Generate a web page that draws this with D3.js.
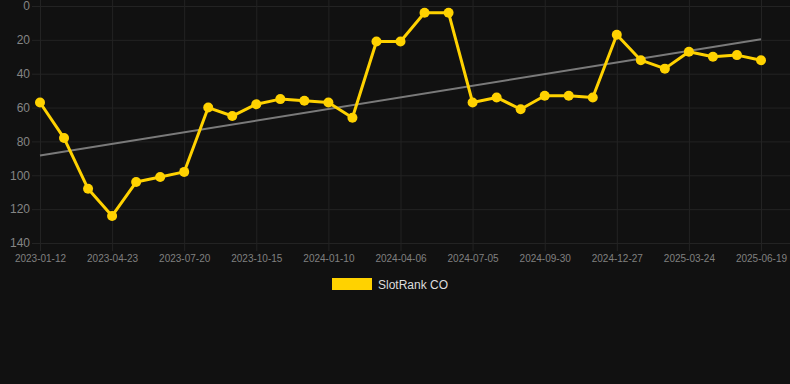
<!DOCTYPE html>
<html>
<head>
<meta charset="utf-8">
<script src="https://cdn.jsdelivr.net/npm/d3@7"></script>
<style>
  html, body { margin: 0; padding: 0; background: #111111; }
  svg { display: block; }
</style>
</head>
<body>
<div id="chart"></div>
<script>
// dates of each rank check (only every third one is labelled)
var dates = [
  "2023-01-12", "2023-02-14", "2023-03-20", "2023-04-23", "2023-05-22", "2023-06-20",
  "2023-07-20", "2023-08-18", "2023-09-16", "2023-10-15", "2023-11-13", "2023-12-12",
  "2024-01-10", "2024-02-08", "2024-03-08", "2024-04-06", "2024-05-06", "2024-06-05",
  "2024-07-05", "2024-08-03", "2024-09-01", "2024-09-30", "2024-10-29", "2024-11-28",
  "2024-12-27", "2025-01-25", "2025-02-23", "2025-03-24", "2025-04-22", "2025-05-21",
  "2025-06-19"
];
var ranks = [
  57, 78, 108, 124, 104, 101, 98, 60, 65, 58, 55, 56, 57, 66, 21, 21,
  4, 4, 57, 54, 61, 53, 53, 54, 17, 32, 37, 27, 30, 29, 32
];
var yTicks = [0, 20, 40, 60, 80, 100, 120, 140];
var seriesName = "SlotRank CO";

var W = 790, H = 384;
var plotLeft = 40, plotRight = 761, plotTop = 6, plotBottom = 243;

var svg = d3.select("#chart")
  .append("svg")
    .attr("width", W)
    .attr("height", H)
    .style("font-family", "Helvetica Neue, Helvetica, Arial, sans-serif");

var x = d3.scalePoint()
  .domain(dates)
  .range([plotLeft, plotRight]);

var y = d3.scaleLinear()
  .domain([0, 140])
  .range([plotTop, plotBottom]);

var gridColor = "#232323";

// horizontal grid + y labels
var yAxis = svg.append("g")
  .attr("transform", `translate(${plotLeft},0)`)
  .call(d3.axisLeft(y).tickValues(yTicks).tickSize(8).tickPadding(2))
  .call(g => g.select(".domain").remove());
yAxis.selectAll("line").attr("stroke", gridColor);
yAxis.selectAll("text")
  .attr("fill", "#858585")
  .style("font-size", "12px");
svg.append("g")
  .selectAll("line")
  .data(yTicks)
  .join("line")
    .attr("x1", plotLeft)
    .attr("x2", W)
    .attr("y1", d => y(d) + 0.5)
    .attr("y2", d => y(d) + 0.5)
    .attr("stroke", gridColor);

// vertical grid + x labels (every third date)
var shown = dates.filter((d, i) => i % 3 === 0);
var xAxis = svg.append("g")
  .attr("transform", `translate(0,${plotBottom})`)
  .call(d3.axisBottom(x).tickValues(shown).tickSize(8).tickPadding(4))
  .call(g => g.select(".domain").remove());
xAxis.selectAll("line").attr("stroke", gridColor);
xAxis.selectAll("text")
  .attr("fill", "#808080")
  .style("font-size", "10px");
svg.append("g")
  .selectAll("line")
  .data(shown)
  .join("line")
    .attr("x1", d => x(d) + 0.5)
    .attr("x2", d => x(d) + 0.5)
    .attr("y1", 0)
    .attr("y2", plotBottom)
    .attr("stroke", gridColor);

// trend line (least squares fit over the points)
var n = ranks.length;
var mx = d3.mean(ranks, (d, i) => i);
var my = d3.mean(ranks);
var slope = d3.sum(ranks, (d, i) => (i - mx) * (d - my)) / d3.sum(ranks, (d, i) => (i - mx) * (i - mx));
var b = my - slope * mx;
svg.append("line")
  .attr("x1", x(dates[0]))
  .attr("y1", y(b))
  .attr("x2", x(dates[n - 1]))
  .attr("y2", y(b + slope * (n - 1)))
  .attr("stroke", "#7a7a7a")
  .attr("stroke-width", 2);

// rank line
var line = d3.line()
  .x((d, i) => x(dates[i]))
  .y(d => y(d));
svg.append("path")
  .datum(ranks)
  .attr("d", line)
  .attr("fill", "none")
  .attr("stroke", "#FFD200")
  .attr("stroke-width", 3)
  .attr("stroke-linejoin", "round");

svg.append("g")
  .selectAll("circle")
  .data(ranks)
  .join("circle")
    .attr("cx", (d, i) => x(dates[i]))
    .attr("cy", d => y(d))
    .attr("r", 5)
    .attr("fill", "#FFD200");

// legend
svg.append("rect")
  .attr("x", 332)
  .attr("y", 278)
  .attr("width", 40)
  .attr("height", 12)
  .attr("fill", "#FFD200");
svg.append("text")
  .attr("x", 378)
  .attr("y", 288.5)
  .attr("fill", "#dddddd")
  .style("font-size", "12px")
  .text(seriesName);
</script>
</body>
</html>
